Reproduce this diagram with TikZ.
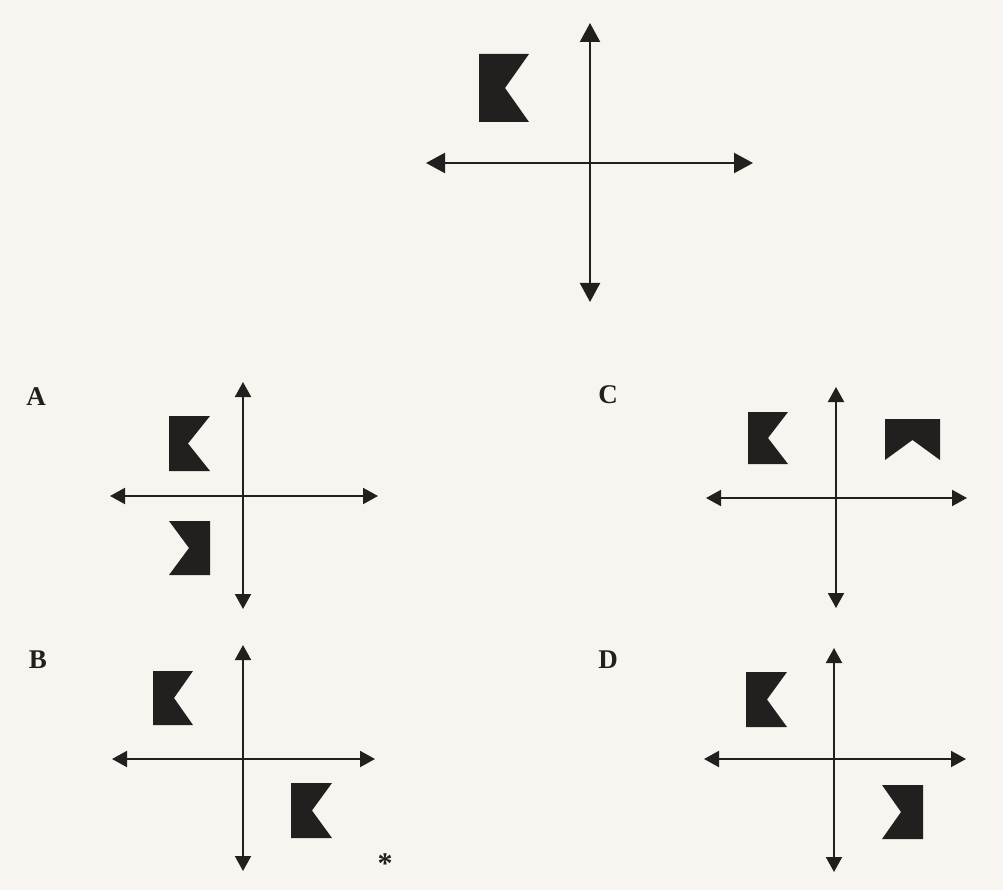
\documentclass[tikz,border=0pt]{standalone}
\usepackage{fontspec}
\setmainfont{Liberation Serif}
\usetikzlibrary{arrows.meta}
\definecolor{paper}{HTML}{F8F5F1}
\definecolor{ink}{HTML}{231F1E}
\newcommand\flagNotchRight[5]{% x1,y1,x2,y2,xn
  \fill[ink] (#1,#2) -- (#3,#2) -- (#5,{(#2+#4)/2}) -- (#3,#4) -- (#1,#4) -- cycle;}
\newcommand\flagNotchLeft[5]{%
  \fill[ink] (#1,#2) -- (#3,#2) -- (#3,#4) -- (#1,#4) -- (#5,{(#2+#4)/2}) -- cycle;}
\newcommand\flagNotchBottom[5]{% x1,y1,x2,y2,yn
  \fill[ink] (#1,#2) -- (#3,#2) -- (#3,#4) -- ({(#1+#3)/2},#5) -- (#1,#4) -- cycle;}
\tikzset{
  bigaxis/.style={draw=ink, line width=2.2pt, {Triangle[length=19pt,width=20pt]}-{Triangle[length=19pt,width=20pt]}},
  axis/.style={draw=ink, line width=2pt, {Triangle[length=15pt,width=16pt]}-{Triangle[length=15pt,width=16pt]}},
  lbl/.style={font=\fontsize{27}{27}\selectfont\bfseries, text=ink, inner sep=0pt}
}
\begin{document}
\begin{tikzpicture}[x=1pt,y=-1pt]
\fill[paper] (0,0) rectangle (1003,890);
\useasboundingbox (0,0) rectangle (1003,890);
% top
\coordinate (tT) at (590,23); \coordinate (tB) at (590,302);
\coordinate (tL) at (426,163); \coordinate (tR) at (753,163);
\draw[bigaxis] (tT) -- (tB);
\draw[bigaxis] (tL) -- (tR);
\flagNotchRight{479}{54}{529}{122}{505}
% A
\node[lbl] (la) at (36,397) {A};
\coordinate (aT) at (243,382); \coordinate (aB) at (243,609);
\coordinate (aL) at (110,496); \coordinate (aR) at (378,496);
\draw[axis] (aT) -- (aB);
\draw[axis] (aL) -- (aR);
\flagNotchRight{169}{416}{210}{471}{188}
\flagNotchLeft{169}{521}{210}{575}{189}
% C
\node[lbl] (lc) at (608,395) {C};
\coordinate (cT) at (836,387); \coordinate (cB) at (836,608);
\coordinate (cL) at (706,498); \coordinate (cR) at (967,498);
\draw[axis] (cT) -- (cB);
\draw[axis] (cL) -- (cR);
\flagNotchRight{748}{412}{788}{464}{768}
\flagNotchBottom{885}{419}{940}{460}{440}
% B
\node[lbl] (lb) at (38,660) {B};
\coordinate (bT) at (243,645); \coordinate (bB) at (243,871);
\coordinate (bL) at (112,759); \coordinate (bR) at (375,759);
\draw[axis] (bT) -- (bB);
\draw[axis] (bL) -- (bR);
\flagNotchRight{153}{671}{193}{725}{174}
\flagNotchRight{291}{783}{332}{838}{312}
\node[font=\fontsize{30}{30}\selectfont\bfseries, text=ink, inner sep=0pt] (star) at (385,864) {*};
% D
\node[lbl] (ld) at (608,660) {D};
\coordinate (dT) at (834,648); \coordinate (dB) at (834,872);
\coordinate (dL) at (704,759); \coordinate (dR) at (966,759);
\draw[axis] (dT) -- (dB);
\draw[axis] (dL) -- (dR);
\flagNotchRight{746}{672}{787}{727}{767}
\flagNotchLeft{882}{785}{923}{839}{901}
\end{tikzpicture}
\end{document}
